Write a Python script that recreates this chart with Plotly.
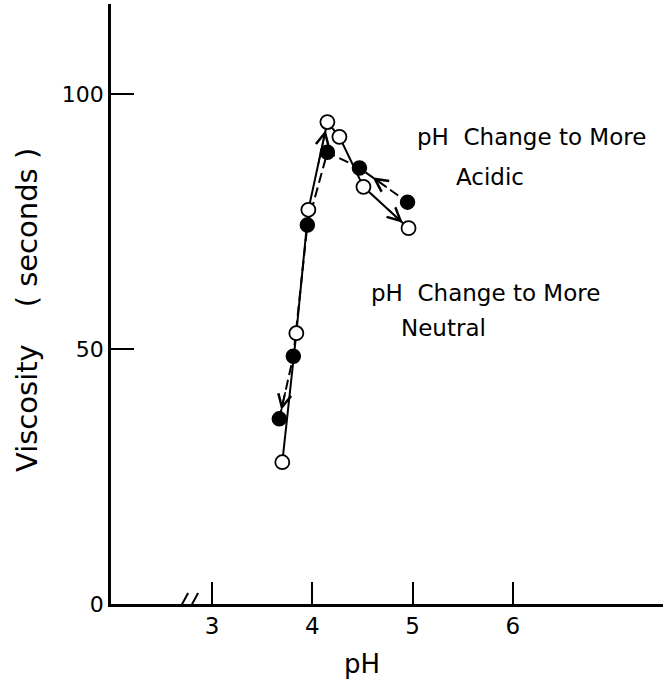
import plotly.graph_objects as go

# Data
ph_neutral = [3.70, 3.84, 3.96, 4.15, 4.27, 4.51, 4.96]      # open circles, solid line
visc_neutral = [27.8, 53.1, 77.3, 94.5, 91.6, 81.8, 73.7]
ph_acidic = [3.67, 3.81, 3.95, 4.15, 4.47, 4.95]             # filled circles, dashed line
visc_acidic = [36.3, 48.6, 74.3, 88.6, 85.5, 78.8]

x_ticks = [3, 4, 5, 6]
y_ticks = [0, 50, 100]

FONT = "DejaVu Sans"
fig = go.Figure()

fig.add_trace(go.Scatter(
    x=ph_neutral, y=visc_neutral, mode="lines",
    line=dict(color="black", width=2), showlegend=False, hoverinfo="skip"))
fig.add_trace(go.Scatter(
    x=ph_acidic, y=visc_acidic, mode="lines",
    line=dict(color="black", width=2, dash="10px,5px"), showlegend=False, hoverinfo="skip"))
fig.add_trace(go.Scatter(
    x=ph_acidic, y=visc_acidic, mode="markers",
    marker=dict(size=14, color="black", line=dict(color="black", width=1.5)),
    showlegend=False))
fig.add_trace(go.Scatter(
    x=ph_neutral, y=visc_neutral, mode="markers",
    marker=dict(size=14, color="white", line=dict(color="black", width=1.8)),
    showlegend=False))

# Direction arrows (head point index, tail point index, standoff px, tail fraction)
def arrow(xs, ys, head, tail, standoff, frac):
    tx = xs[head] + (xs[tail] - xs[head]) * frac
    ty = ys[head] + (ys[tail] - ys[head]) * frac
    fig.add_annotation(x=xs[head], y=ys[head], ax=tx, ay=ty, xref="x", yref="y",
                       axref="x", ayref="y", text="", showarrow=True,
                       arrowhead=5, arrowsize=1.6, arrowwidth=1.6,
                       arrowcolor="black", standoff=standoff)

arrow(ph_neutral, visc_neutral, 3, 2, 8, 0.5)
arrow(ph_neutral, visc_neutral, 6, 5, 8, 0.5)
arrow(ph_acidic, visc_acidic, 4, 5, 16, 0.6)
arrow(ph_acidic, visc_acidic, 0, 1, 9, 0.45)

# Text labels
txt = dict(showarrow=False, xref="paper", yref="paper", xanchor="center", yanchor="middle",
           font=dict(family=FONT, size=23, color="black"))
fig.add_annotation(text="pH\u00a0\u00a0Change to More", x=0.761, y=0.778, **txt)
fig.add_annotation(text="Acidic", x=0.686, y=0.712, **txt)
fig.add_annotation(text="pH\u00a0\u00a0Change to More", x=0.679, y=0.518, **txt)
fig.add_annotation(text="Neutral", x=0.603, y=0.460, **txt)

# Axis titles
fig.add_annotation(text="Viscosity\u00a0\u00a0\u00a0\u00a0(\u00a0seconds\u00a0)",
                   x=0, y=(604 - 310) / 600, xref="paper", yref="paper", xshift=-84,
                   xanchor="center", yanchor="middle",
                   textangle=-90, showarrow=False,
                   font=dict(family=FONT, size=29, color="black"))
fig.add_annotation(text="pH", x=0.455, y=0, xref="paper", yref="paper", yshift=-60,
                   xanchor="center", yanchor="middle",
                   showarrow=False, font=dict(family=FONT, size=26, color="black"))

# Axis break marks
for dx in (0, 10):
    fig.add_shape(type="line", xref="x", yref="y", xsizemode="pixel", ysizemode="pixel",
                  xanchor=2.76, yanchor=0, x0=-12 + dx, y0=-11, x1=0 + dx, y1=11,
                  line=dict(color="black", width=2))

fig.update_layout(
    width=663, height=680,
    margin=dict(l=111, r=0, t=4, b=76),
    plot_bgcolor="white", paper_bgcolor="white",
    font=dict(family=FONT, color="black"),
    xaxis=dict(range=[1.99, 7.5], tickvals=x_ticks, ticks="inside", ticklen=22,
               tickwidth=1.5, tickcolor="black", showgrid=False, zeroline=False,
               showline=True, linecolor="black", linewidth=2.5,
               tickfont=dict(family=FONT, size=23, color="black")),
    yaxis=dict(range=[0, 117.65], tickvals=y_ticks, ticks="inside", ticklen=23,
               tickwidth=1.5, tickcolor="black", showgrid=False, zeroline=False,
               showline=True, linecolor="black", linewidth=2.5,
               tickfont=dict(family=FONT, size=22, color="black")),
)

fig.write_html(
    "out.html",
    config={"displayModeBar": False},
    post_script="document.body.style.margin='0';document.body.style.overflow='hidden';",
)
